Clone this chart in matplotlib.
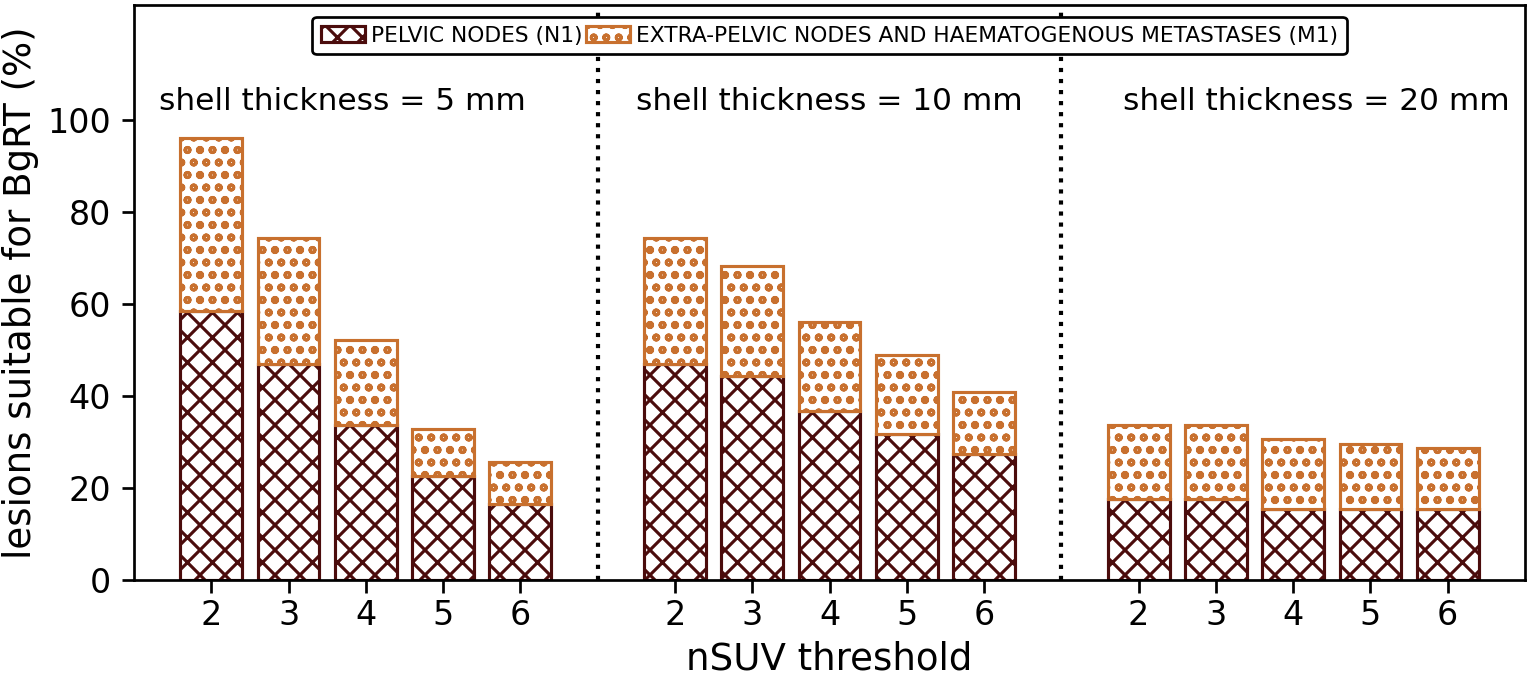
import matplotlib
matplotlib.use("Agg")
import matplotlib.pyplot as plt
import numpy as np

# nSUV thresholds on each group
thresholds = [2, 3, 4, 5, 6]
shells = ["shell thickness = 5 mm", "shell thickness = 10 mm", "shell thickness = 20 mm"]

# pelvic nodes (N1), % of lesions, one list per shell thickness
n1_5mm = [58.4, 46.9, 33.8, 22.6, 16.5]
n1_10mm = [46.9, 44.3, 36.7, 31.7, 27.5]
n1_20mm = [17.6, 17.6, 15.4, 15.4, 15.4]

# total (N1 + M1) bar heights
tot_5mm = [96.1, 74.4, 52.1, 32.8, 25.6]
tot_10mm = [74.4, 68.3, 56.0, 49.0, 40.8]
tot_20mm = [33.8, 33.8, 30.7, 29.6, 28.7]

dark = "#4b0c0c"
orange = "#c8702e"

plt.rcParams["hatch.linewidth"] = 1.5
plt.rcParams["axes.linewidth"] = 1.3

fig = plt.figure(figsize=(1535 / 150, 675 / 150), dpi=150)
ax = fig.add_axes([0.0873, 0.1407, 0.9935 - 0.0873, 0.9926 - 0.1407])

n1_all = [n1_5mm, n1_10mm, n1_20mm]
tot_all = [tot_5mm, tot_10mm, tot_20mm]
text_x = [1.7, 8.0, 14.3]

xticks = []
xlabels = []
for g in range(3):
    x = np.arange(len(thresholds)) + 6 * g
    n1 = np.array(n1_all[g])
    m1 = np.array(tot_all[g]) - n1
    b1 = ax.bar(x, n1, width=0.8, color="white", edgecolor=dark, hatch="xx",
                linewidth=1.5)
    b2 = ax.bar(x, m1, width=0.8, bottom=n1, color="white", edgecolor=orange,
                hatch="oo", linewidth=1.5)
    xticks += list(x)
    xlabels += [str(t) for t in thresholds]
    ax.text(text_x[g], 104, shells[g], ha="center", va="center", fontsize=15)
    if g == 0:
        h1, h2 = b1, b2

for xv in [5, 11]:
    ax.axvline(xv, color="black", linestyle=":", linewidth=2)

ax.set_xlim(-1, 17)
ax.set_ylim(0, 125)
ax.set_yticks([0, 20, 40, 60, 80, 100])
ax.set_xticks(xticks)
ax.set_xticklabels(xlabels)
ax.tick_params(labelsize=16, length=6, width=1.3)
ax.tick_params(axis="y", pad=5)
ax.tick_params(axis="x", pad=3)
ax.set_xlabel("nSUV threshold", fontsize=17.8, labelpad=4)
ax.set_ylabel("lesions suitable for BgRT (%)", fontsize=17.8, labelpad=4)

leg = ax.legend([h1, h2], ["PELVIC NODES (N1)",
                           "EXTRA-PELVIC NODES AND HAEMATOGENOUS METASTASES (M1)"],
                loc="upper center", ncol=2, fontsize=10.45, frameon=True,
                handlelength=2.0, handletextpad=0.27, columnspacing=0.2,
                borderpad=0.4, bbox_to_anchor=(0.5, 0.998))
leg.get_frame().set_edgecolor("black")
leg.get_frame().set_linewidth(1.3)
leg.get_frame().set_alpha(1)

fig.savefig("out.png", dpi=150)
